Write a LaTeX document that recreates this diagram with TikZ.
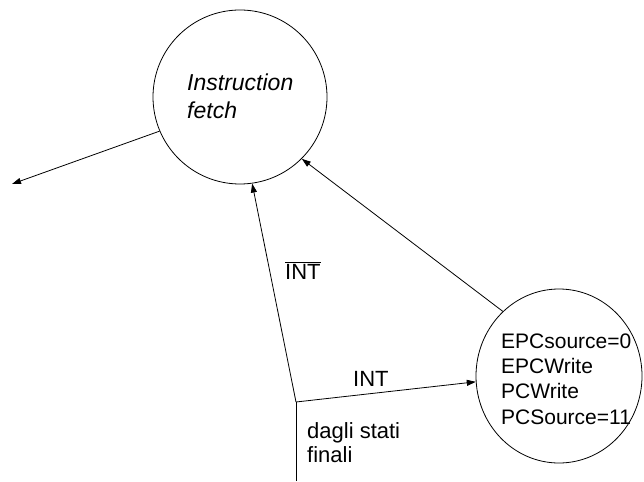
\documentclass[tikz,border=0pt]{standalone}
\usepackage{fontspec}
\setmainfont{Liberation Sans}
\usetikzlibrary{shapes.geometric,arrows.meta}
\begin{document}
\begin{tikzpicture}[x=1pt,y=-1pt,
  state/.style={draw,line width=0.8pt,ellipse,inner sep=0pt},
  conn/.style={draw,line width=0.8pt,-{Triangle[length=9pt,width=6pt]}},
  lbl/.style={inner sep=0pt,anchor=base west,font=\fontsize{22}{24}\selectfont}]
\useasboundingbox (0,0) rectangle (644,481);
\node[state,minimum width=174pt,minimum height=174pt] (fetch) at (240,97) {};
\node[inner sep=0pt,anchor=base west,align=left,font=\fontsize{23}{28}\selectfont\itshape] (ftext) at (187,119) {Instruction\\fetch};
\node[state,minimum width=166pt,minimum height=174pt] (exc) at (559,376) {};
\node[inner sep=0pt,anchor=base west,align=left,font=\fontsize{21}{25.3}\selectfont] (etext) at (501,424) {EPCsource=0\\EPCWrite\\PCWrite\\PCSource=11};
\coordinate (junc) at (296,402);
\coordinate (bottom) at (296,481);
\coordinate (leftend) at (12,184);
\draw[line width=0.8pt] (bottom) -- (junc);
\draw[conn] (junc) -- (fetch.-82);
\draw[conn] (junc) -- (exc.184);
\draw[conn] (exc.131) -- (fetch.-45);
\draw[conn] (fetch.203.5) -- (leftend);
\node[lbl] (notint) at (285,279) {$\overline{\hbox{INT}}$};
\node[lbl] (int) at (353,386) {INT};
\node[lbl,align=left] (dagli) at (307,462) {dagli stati\\finali};
\end{tikzpicture}
\end{document}
